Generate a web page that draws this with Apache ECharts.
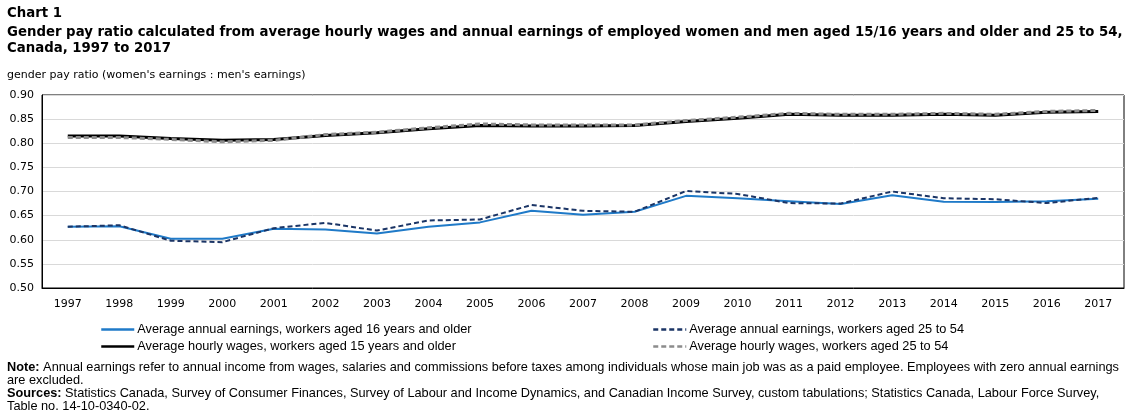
<!DOCTYPE html>
<html><head><meta charset="utf-8">
<script src="https://cdn.jsdelivr.net/npm/echarts@6/dist/echarts.min.js"></script>
<style>html,body{margin:0;padding:0;background:#fff}#c{width:1134px;height:417px}</style>
</head><body><div id="c"></div>
<script>
const years = ['1997','1998','1999','2000','2001','2002','2003','2004','2005','2006','2007','2008','2009','2010','2011','2012','2013','2014','2015','2016','2017'];
const annual16 = [0.627,0.628,0.602,0.602,0.623,0.621,0.613,0.627,0.636,0.660,0.652,0.658,0.691,0.686,0.680,0.674,0.692,0.679,0.678,0.680,0.685];
const annual25 = [0.627,0.630,0.598,0.595,0.624,0.635,0.619,0.640,0.642,0.672,0.660,0.658,0.701,0.695,0.676,0.675,0.700,0.686,0.684,0.676,0.687];
const hourly15 = [0.815,0.815,0.810,0.806,0.808,0.816,0.822,0.830,0.837,0.836,0.836,0.837,0.845,0.852,0.860,0.858,0.858,0.860,0.858,0.864,0.866];
const hourly25 = [0.812,0.812,0.808,0.803,0.806,0.818,0.823,0.832,0.840,0.838,0.838,0.838,0.847,0.854,0.862,0.860,0.860,0.862,0.860,0.866,0.868];
const names = ['Average annual earnings, workers aged 16 years and older','Average annual earnings, workers aged 25 to 54','Average hourly wages, workers aged 15 years and older','Average hourly wages, workers aged 25 to 54'];

const F = '"DejaVu Sans", Verdana, sans-serif';
const G = '"Liberation Sans", Arial, sans-serif';
const chart = echarts.init(document.getElementById('c'));
const legendBase = {orient:'vertical', top:323, itemWidth:33, itemHeight:10, itemGap:4, padding:0,
  itemStyle:{opacity:0}, lineStyle:{width:2.5},
  textStyle:{fontFamily:G,fontSize:12.75,color:'#000',padding:[0,0,0,-2]}};
chart.setOption({
  animation:false,
  title:[
    {text:'Chart 1', left:7, top:7, padding:0, textStyle:{fontFamily:F,fontSize:13.3,fontWeight:'bold',color:'#000'}},
    {text:'Gender pay ratio calculated from average hourly wages and annual earnings of employed women and men aged 15/16 years and older and 25 to 54,\nCanada, 1997 to 2017', left:7, top:25, padding:0, textStyle:{fontFamily:F,fontSize:13.3,fontWeight:'bold',color:'#000',lineHeight:16}},
    {text:"gender pay ratio (women's earnings : men's earnings)", left:7, top:70, padding:0, textStyle:{fontFamily:F,fontSize:11,fontWeight:'normal',color:'#000'}},
    {text:'{b|Note:} Annual earnings refer to annual income from wages, salaries and commissions before taxes among individuals whose main job was as a paid employee. Employees with zero annual earnings\nare excluded.\n{b|Sources:} Statistics Canada, Survey of Consumer Finances, Survey of Labour and Income Dynamics, and Canadian Income Survey, custom tabulations; Statistics Canada, Labour Force Survey,\nTable no. 14-10-0340-02.',
     left:7, top:361, padding:0, textStyle:{fontFamily:G,fontSize:12.75,fontWeight:'normal',color:'#000',lineHeight:13,
       rich:{b:{fontFamily:G,fontSize:12.75,fontWeight:'bold',color:'#000'}}}}
  ],
  legend:[
    Object.assign({data:[names[0],names[2]], left:100}, legendBase),
    Object.assign({data:[names[1],names[3]], left:652}, legendBase)
  ],
  grid:{left:42, right:10, top:95, bottom:129, show:true, borderColor:'#000', borderWidth:1},
  xAxis:{type:'category', data:years, boundaryGap:true,
    axisLine:{lineStyle:{color:'#000',width:1}},
    axisTick:{inside:true, length:5, lineStyle:{color:'#000'}},
    axisLabel:{fontFamily:F,fontSize:11,color:'#000',margin:11}},
  yAxis:{type:'value', min:0.5, max:0.9, interval:0.05,
    axisLine:{show:true,lineStyle:{color:'#000'}}, axisTick:{show:false},
    splitLine:{lineStyle:{color:'#d9d9d9',width:1}},
    axisLabel:{fontFamily:F,fontSize:11,color:'#000',margin:8,formatter:v=>v.toFixed(2)}},
  series:[
    {name:names[0], type:'line', data:annual16, symbol:'none', lineStyle:{color:'#1f7ac8',width:2}, itemStyle:{color:'#1f7ac8'}},
    {name:names[1], type:'line', data:annual25, symbol:'none', lineStyle:{color:'#1b3566',width:2,type:[5,3]}, itemStyle:{color:'#1b3566'}},
    {name:names[2], type:'line', data:hourly15, symbol:'none', lineStyle:{color:'#000',width:3}, itemStyle:{color:'#000'}},
    {name:names[3], type:'line', data:hourly25, symbol:'none', lineStyle:{color:'#8c8c8c',width:3,type:[5,3]}, itemStyle:{color:'#8c8c8c'}}
  ]
});
</script></body></html>
